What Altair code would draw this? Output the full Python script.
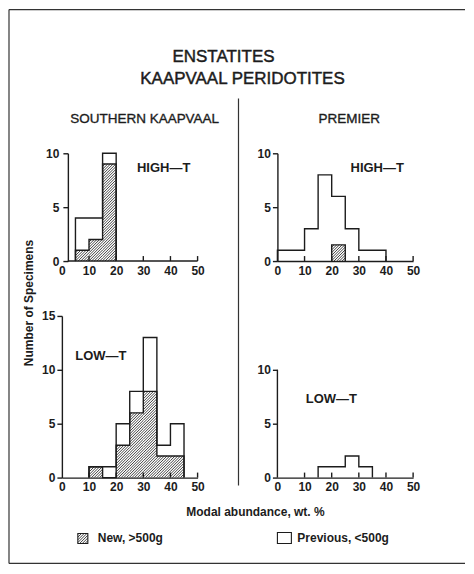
import math
import altair as alt
import pandas as pd

# ---------------- data ----------------
BIN_LO = [0, 5, 10, 15, 20, 25, 30, 35, 40, 45]
BIN_W = 5
SK_HIGH_TOTAL = [0, 4, 4, 10, 0, 0, 0, 0, 0, 0]
SK_HIGH_NEW = [0, 1, 2, 9, 0, 0, 0, 0, 0, 0]
PR_HIGH_TOTAL = [1, 1, 3, 8, 6, 3, 1, 1, 0, 0]
PR_HIGH_NEW = [0, 0, 0, 0, 1.5, 0, 0, 0, 0, 0]
SK_LOW_TOTAL = [0, 0, 1, 1, 5, 8, 13, 3, 5, 0]
SK_LOW_NEW = [0, 0, 1, 0, 3, 6, 8, 2, 2, 0]
PR_LOW_TOTAL = [0, 0, 0, 1, 1, 2, 1, 0, 0, 0]
PR_LOW_NEW = [0, 0, 0, 0, 0, 0, 0, 0, 0, 0]

X_TICKS = [0, 10, 20, 30, 40, 50]
INNER_TICKS = [10, 20, 30, 40, 50]
Y_TICKS_10 = [0, 5, 10]
Y_TICKS_15 = [0, 5, 10, 15]

TITLE_LINES = ["ENSTATITES", "KAAPVAAL PERIDOTITES"]
COL_HEADERS = ["SOUTHERN KAAPVAAL", "PREMIER"]
PANEL_LABELS = ["HIGH\u2014T", "HIGH\u2014T", "LOW\u2014T", "LOW\u2014T"]
Y_TITLE = "Number of Specimens"
X_TITLE = "Modal abundance, wt. %"
LEGEND = ["New, >500g", "Previous, <500g"]

# ---------------- styling ----------------
W = 136
INK = "#1c1c1c"
FONT = "Liberation Sans"
SP = 2.7  # hatch spacing in px


def step_df(counts):
    idx = [i for i, c in enumerate(counts) if c > 0]
    if not idx:
        return None
    a, b = idx[0], idx[-1]
    pts = [(BIN_LO[a], 0)]
    for i in range(a, b + 1):
        pts.append((BIN_LO[i], counts[i]))
    pts.append((BIN_LO[b] + BIN_W, counts[b]))
    pts.append((BIN_LO[b] + BIN_W, 0))
    return pd.DataFrame({"x": [p[0] for p in pts], "y": [p[1] for p in pts],
                         "i": list(range(len(pts)))})


def hatch_df(counts, kx, ky):
    rows = []
    for lo, c in zip(BIN_LO, counts):
        if c <= 0:
            continue
        X0, X1, H = lo * kx, (lo + BIN_W) * kx, c * ky
        C = math.ceil((X0 - H) / SP) * SP
        while C < X1:
            xs = max(X0, C)
            ys = xs - C
            xe = min(X1, C + H)
            ye = xe - C
            if xe > xs + 0.2:
                rows.append({"x": xs / kx, "y": ys / ky, "x2": xe / kx, "y2": ye / ky})
            C += SP
    return pd.DataFrame(rows) if rows else None


def panel(total, new, ymax, yvals, h, label, lx, ly, y_offset=0, y_pad=2,
          x_domain=True, y_domain=True, extra=None, deco=None):
    kx = W / 50
    ky = h / ymax
    xs = alt.Scale(domain=[0, 50], nice=False, zero=False)
    ys = alt.Scale(domain=[0, ymax], nice=False, zero=False)
    xax = alt.Axis(values=X_TICKS, ticks=False, domain=x_domain, labelPadding=4, title=None,
                   grid=False, labelFlush=False, labelOverlap=False)
    yax = alt.Axis(values=yvals, tickSize=5, domain=y_domain, offset=y_offset, labelPadding=y_pad,
                   title=None, grid=False, labelOverlap=False)
    X = alt.X("x:Q", scale=xs, axis=xax)
    Y = alt.Y("y:Q", scale=ys, axis=yax)
    layers = []
    tot = step_df(total)
    layers.append(alt.Chart(tot).mark_line(interpolate="step-after", color=INK, strokeWidth=1.4)
                  .encode(x=X, y=Y, order="i:Q"))
    hd = hatch_df(new, kx, ky)
    if hd is not None:
        layers.append(alt.Chart(hd).mark_rule(color="#2a2a2a", strokeWidth=0.9)
                      .encode(x=X, y=Y, x2="x2:Q", y2="y2:Q"))
    nd = step_df(new)
    if nd is not None:
        layers.append(alt.Chart(nd).mark_line(interpolate="step-after", color=INK, strokeWidth=1.4)
                      .encode(x=X, y=Y, order="i:Q"))
    layers.append(alt.Chart(pd.DataFrame({"x": INNER_TICKS})).mark_rule(color=INK, strokeWidth=1.4)
                  .encode(x=X, y=alt.value(h), y2=alt.value(h - 5)))
    layers.append(alt.Chart(pd.DataFrame({"t": [label]})).mark_text(
        font=FONT, fontSize=13, fontWeight="bold", color=INK, align="center", baseline="middle")
        .encode(x=alt.value(lx), y=alt.value(ly), text="t:N"))
    if extra is not None:
        layers.extend(extra)
    inner = alt.layer(*layers)
    if deco is not None:
        return alt.layer(inner, *deco).resolve_scale(x="independent", y="independent").properties(width=W, height=h)
    return inner.properties(width=W, height=h)


# ---------------- decoration (pixel positions relative to top-left plot) ----------------
def px(field):
    return alt.X(field, scale=None, axis=None)


def py(field):
    return alt.Y(field, scale=None, axis=None)


frame = pd.DataFrame([
    {"x": -53, "y": -144, "x2": -53, "y2": 411},
    {"x": -53, "y": -144, "x2": 404, "y2": -144},
    {"x": -53, "y": 411, "x2": 404, "y2": 411},
    {"x": 177, "y": -55, "x2": 177, "y2": 333},
])
title_df = pd.DataFrame({"x": [162, 181], "y": [-96, -74], "t": TITLE_LINES})
head_df = pd.DataFrame({"x": [83, 288], "y": [-34, -34], "t": COL_HEADERS})
xt_df = pd.DataFrame({"x": [194], "y": [359], "t": [X_TITLE]})
yt_df = pd.DataFrame({"x": [-33], "y": [150], "t": [Y_TITLE]})
leg_df = pd.DataFrame({"x": [36, 236], "y": [386, 386], "t": LEGEND})
box_df = pd.DataFrame([
    {"x": 16, "y": 381, "x2": 26, "y2": 391},
    {"x": 216, "y": 380, "x2": 230, "y2": 391},
])
lh = []
c = -9.0
while c < 10:
    u0 = max(0.0, c)
    u1 = min(10.0, 10.0 + c)
    if u1 > u0 + 0.2:
        lh.append({"x": 16 + u0, "y": 391 - (u0 - c), "x2": 16 + u1, "y2": 391 - (u1 - c)})
    c += SP
leg_hatch = pd.DataFrame(lh)

deco = [
    alt.Chart(frame).mark_rule(color="#333333", strokeWidth=1.2)
    .encode(x=px("x:Q"), y=py("y:Q"), x2="x2:Q", y2="y2:Q"),
    alt.Chart(title_df).mark_text(font=FONT, fontSize=17, color=INK, stroke=INK, strokeWidth=0.45,
                                  align="center", baseline="middle")
    .encode(x=px("x:Q"), y=py("y:Q"), text="t:N"),
    alt.Chart(head_df).mark_text(font=FONT, fontSize=13.5, color=INK, stroke=INK, strokeWidth=0.35,
                                 align="center", baseline="middle")
    .encode(x=px("x:Q"), y=py("y:Q"), text="t:N"),
    alt.Chart(xt_df).mark_text(font=FONT, fontSize=12, fontWeight="bold", color=INK, align="center", baseline="middle")
    .encode(x=px("x:Q"), y=py("y:Q"), text="t:N"),
    alt.Chart(yt_df).mark_text(font=FONT, fontSize=12, fontWeight="bold", color=INK, align="center",
                               baseline="middle", angle=270)
    .encode(x=px("x:Q"), y=py("y:Q"), text="t:N"),
    alt.Chart(leg_df).mark_text(font=FONT, fontSize=12, fontWeight="bold", color=INK, align="left", baseline="middle")
    .encode(x=px("x:Q"), y=py("y:Q"), text="t:N"),
    alt.Chart(box_df).mark_rect(fill="white", stroke=INK, strokeWidth=1.1)
    .encode(x=px("x:Q"), y=py("y:Q"), x2="x2:Q", y2="y2:Q"),
    alt.Chart(leg_hatch).mark_rule(color="#2a2a2a", strokeWidth=0.9)
    .encode(x=px("x:Q"), y=py("y:Q"), x2="x2:Q", y2="y2:Q"),
]

# top-left: y axis is drawn a little right of x = 0 in the original
tl_base = [alt.Chart(pd.DataFrame({"x": [0]})).mark_rule(color=INK, strokeWidth=1.4)
           .encode(x=alt.value(6), x2=alt.value(W), y=alt.value(108))]
tl = panel(SK_HIGH_TOTAL, SK_HIGH_NEW, 10, Y_TICKS_10, 108, PANEL_LABELS[0], 102, 15,
           y_offset=-6, y_pad=4, x_domain=False, extra=tl_base, deco=deco)
tr = panel(PR_HIGH_TOTAL, PR_HIGH_NEW, 10, Y_TICKS_10, 108, PANEL_LABELS[1], 100, 15)
bl = panel(SK_LOW_TOTAL, SK_LOW_NEW, 15, Y_TICKS_15, 162, PANEL_LABELS[2], 39, 40)
br_axis = [alt.Chart(pd.DataFrame({"x": [0]})).mark_rule(color=INK, strokeWidth=1.4)
           .encode(x=alt.value(0), y=alt.datum(0), y2=alt.datum(10))]
br = panel(PR_LOW_TOTAL, PR_LOW_NEW, 15, Y_TICKS_10, 162, PANEL_LABELS[3], 54, 83,
           y_domain=False, extra=br_axis)

chart = alt.concat(tl, tr, bl, br, columns=2, spacing={"row": 55, "column": 80},
                   bounds="flush").properties(
    padding=0
).configure_view(stroke=None).configure_axis(
    labelFont=FONT, labelFontSize=12, labelFontWeight="bold", labelColor=INK,
    domainColor=INK, tickColor=INK, domainWidth=1.4, tickWidth=1.4,
    labelOverlap=False, labelFlush=False,
)

chart.save("out.html", embed_options={"renderer": "svg", "actions": False})
